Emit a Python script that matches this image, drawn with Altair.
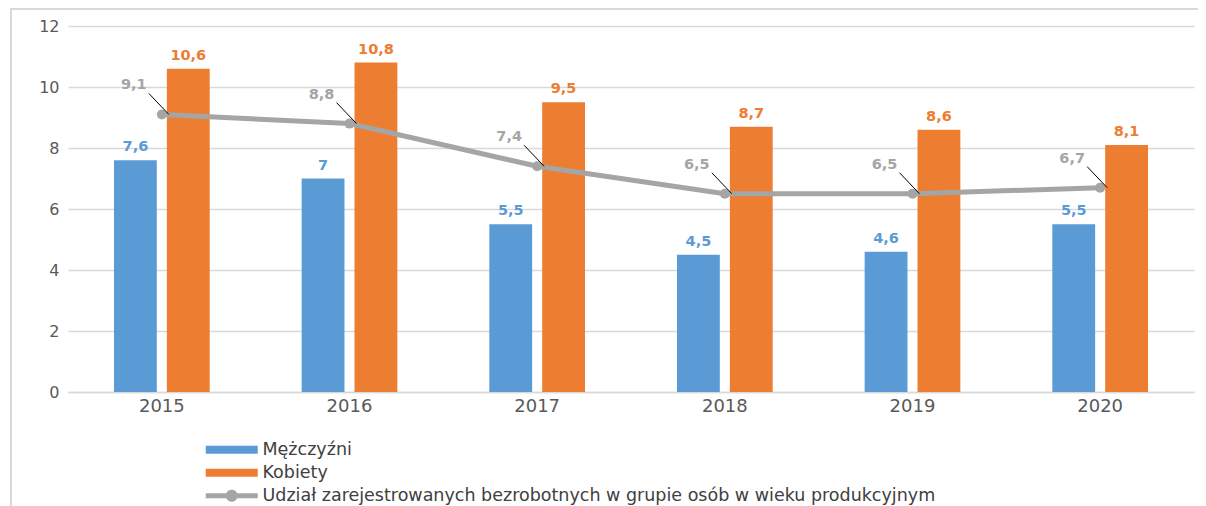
import altair as alt
import pandas as pd

years = ["2015", "2016", "2017", "2018", "2019", "2020"]
men = [7.6, 7.0, 5.5, 4.5, 4.6, 5.5]
women = [10.6, 10.8, 9.5, 8.7, 8.6, 8.1]
share = [9.1, 8.8, 7.4, 6.5, 6.5, 6.7]
y_ticks = [0, 2, 4, 6, 8, 10, 12]

s_men = "Mężczyźni"
s_women = "Kobiety"
s_share = "Udział zarejestrowanych bezrobotnych w grupie osób w wieku produkcyjnym"
bar_colors = ["#5b9bd5", "#ed7d31"]
line_color = "#a5a5a5"


def fmt(v):
    return f"{v:g}".replace(".", ",")


rows = []
for name, vals in [(s_men, men), (s_women, women), (s_share, share)]:
    for yr, v in zip(years, vals):
        rows.append({"year": yr, "series": name, "value": v, "label": fmt(v)})
df = pd.DataFrame(rows)

FONT = "DejaVu Sans"

rect_path = "M-5.2,-0.8H5.2V0.8H-5.2Z"
line_path = ("M-5.2,-0.5H-1V0.5H-5.2Z M1,-0.5H5.2V0.5H1Z "
             "M-1.2,0A1.2,1.2 0 1,1 1.2,0A1.2,1.2 0 1,1 -1.2,0Z")

LEG_X = 155
LEG_Y = 415
LEG_FS = 17.5

bar_legend = alt.Legend(
    title=None, orient="none", legendX=LEG_X, legendY=LEG_Y, direction="vertical",
    symbolSize=100, symbolType=rect_path, symbolStrokeWidth=0, symbolOpacity=1,
    labelOffset=22, labelFontSize=LEG_FS, labelColor="#404040",
    labelFont=FONT, rowPadding=4, padding=0, labelLimit=1000,
)
line_legend = alt.Legend(
    title=None, orient="none", legendX=LEG_X, legendY=LEG_Y + 46, direction="vertical",
    symbolSize=100, symbolType=line_path, symbolFillColor=line_color, symbolStrokeWidth=0,
    symbolOpacity=1, labelOffset=22, labelFontSize=LEG_FS, labelColor="#404040",
    labelFont=FONT, padding=0, labelLimit=1000,
)

color = alt.Color("series:N", scale=alt.Scale(domain=[s_men, s_women], range=bar_colors), legend=bar_legend)

x_axis = alt.Axis(title=None, labelAngle=0, ticks=False, domain=True, domainColor="#d9d9d9",
                  domainWidth=1.5, labelFontSize=18, labelColor="#595959", labelPadding=5,
                  grid=False, labelFont=FONT)
x_scale = alt.Scale(domain=years, paddingInner=0.49, paddingOuter=0.245)
X = alt.X("year:N", scale=x_scale, axis=x_axis)
Xc = alt.X("year:N", scale=x_scale, axis=x_axis, bandPosition=0.5)
Y = alt.Y("value:Q", scale=alt.Scale(domain=[0, 12]),
          axis=alt.Axis(values=y_ticks, title=None, domain=False, ticks=False,
                        gridColor="#d9d9d9", gridWidth=1.5, labelPadding=9,
                        labelFontSize=16, labelColor="#595959", labelFont=FONT))
XO = alt.XOffset("series:N", scale=alt.Scale(domain=[s_men, s_women], paddingInner=0.19, paddingOuter=0))

base = alt.Chart(df)
bar_data = base.transform_filter(alt.FieldOneOfPredicate(field="series", oneOf=[s_men, s_women]))
line_data = base.transform_filter(alt.FieldEqualPredicate(field="series", equal=s_share))

bars = bar_data.mark_bar().encode(x=X, xOffset=XO, y=Y, color=color)
bar_text = bar_data.mark_text(baseline="bottom", dy=-6, fontWeight="bold", fontSize=14.5, font=FONT).encode(
    x=X, xOffset=XO, y=Y, text="label:N", color=color)

line = line_data.mark_line(strokeWidth=5, color=line_color).encode(x=Xc, y=Y)
points = line_data.mark_point(filled=True, size=100, opacity=1, color=line_color).encode(
    x=Xc, y=Y,
    opacity=alt.Opacity("series:N", scale=alt.Scale(domain=[s_share], range=[1]), legend=line_legend))
leader = line_data.mark_rule(color="black", strokeWidth=1, xOffset=-13, yOffset=-21, x2Offset=7, y2Offset=0).encode(
    x=Xc, x2="year", y=Y, y2="value")
line_text = line_data.mark_text(dx=-28, dy=-29, fontWeight="bold", fontSize=14.5, font=FONT,
                                color=line_color).encode(x=Xc, y=Y, text="label:N")

frame_df = pd.DataFrame({"k": [0]})
frame_top = alt.Chart(frame_df).mark_rule(color="#d9d9d9", strokeWidth=2).encode(
    x=alt.value(-58), x2=alt.value(1140), y=alt.value(-17), y2=alt.value(-17))
frame_left = alt.Chart(frame_df).mark_rule(color="#d9d9d9", strokeWidth=2).encode(
    x=alt.value(-57), x2=alt.value(-57), y=alt.value(-17), y2=alt.value(480))

chart = alt.layer(frame_top, frame_left, bars, bar_text, line, points, leader, line_text).properties(
    width=1126, height=366,
    padding={"left": 60, "top": 18, "right": 4, "bottom": 114},
    autosize=alt.AutoSizeParams(type="none"),
    background="white",
).configure_view(stroke=None)

chart.save("out.html", embed_options={"renderer": "svg", "actions": False})
